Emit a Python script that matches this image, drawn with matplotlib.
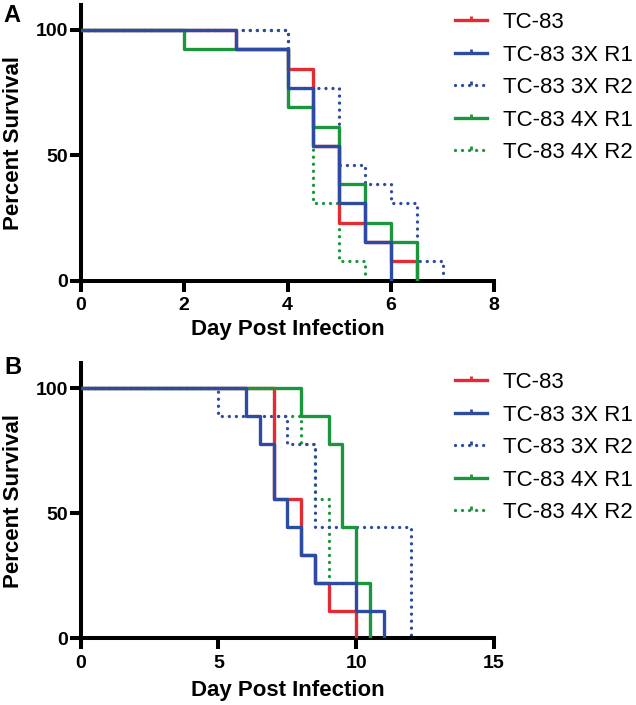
import matplotlib
matplotlib.use("Agg")
import matplotlib.pyplot as plt
from matplotlib.lines import Line2D
from matplotlib.path import Path

plt.rcParams['font.family'] = ['Liberation Sans', 'DejaVu Sans']

# Kaplan-Meier curves (day, percent survival)
labels = ["TC-83", "TC-83 3X R1", "TC-83 3X R2", "TC-83 4X R1", "TC-83 4X R2"]

# Panel A (n = 13 per group)
a_tc83_days = [0, 3, 4, 4.5, 5, 5.5, 6, 6.5]
a_tc83_surv = [100, 92.3, 84.6, 53.8, 23.1, 15.4, 7.7, 0]
a_3xr1_days = [0, 3, 4, 4.5, 5, 5.5, 6]
a_3xr1_surv = [100, 92.3, 76.9, 53.8, 30.8, 15.4, 0]
a_3xr2_days = [0, 4, 5, 5.5, 6, 6.5, 7]
a_3xr2_surv = [100, 76.9, 46.2, 38.5, 30.8, 7.7, 0]
a_4xr1_days = [0, 2, 4, 4.5, 5, 5.5, 6, 6.5]
a_4xr1_surv = [100, 92.3, 69.2, 61.5, 38.5, 23.1, 15.4, 0]
a_4xr2_days = [0, 4, 4.5, 5, 5.5]
a_4xr2_surv = [100, 69.2, 30.8, 7.7, 0]

# Panel B (n = 9 per group)
b_tc83_days = [0, 7, 8, 8.5, 9, 10]
b_tc83_surv = [100, 55.6, 33.3, 22.2, 11.1, 0]
b_3xr1_days = [0, 6, 6.5, 7, 7.5, 8, 8.5, 10, 11]
b_3xr1_surv = [100, 88.9, 77.8, 55.6, 44.4, 33.3, 22.2, 11.1, 0]
b_3xr2_days = [0, 5, 7.5, 8.5, 12]
b_3xr2_surv = [100, 88.9, 77.8, 44.4, 0]
b_4xr1_days = [0, 8, 9, 9.5, 10, 10.5]
b_4xr1_surv = [100, 88.9, 77.8, 44.4, 22.2, 0]
b_4xr2_days = [0, 7, 8, 8.5, 9, 10]
b_4xr2_surv = [100, 88.9, 77.8, 55.6, 22.2, 0]

a_xticks = [0, 2, 4, 6, 8]
b_xticks = [0, 5, 10, 15]
yticks = [0, 50, 100]

RED = "#E42A32"
BLUE = "#2D4BA0"
GREEN = "#1C963C"
DOT = (0, (0.01, 2.1))
LW = 2.4

# colour, linestyle, zorder for each group (same order as labels)
styles = [(RED, "-", 3), (BLUE, "-", 5), (BLUE, DOT, 2), (GREEN, "-", 4), (GREEN, DOT, 1)]

fig = plt.figure(figsize=(6.36, 7.05), dpi=100)
W, H = 636.0, 705.0
axA = fig.add_axes([80.7 / W, 1 - 280.7 / H, 413.6 / W, 275.8 / H])
axB = fig.add_axes([80.7 / W, 1 - 638.3 / H, 413.3 / W, 275.0 / H])

panels = [
    (axA, [(a_tc83_days, a_tc83_surv), (a_3xr1_days, a_3xr1_surv), (a_3xr2_days, a_3xr2_surv),
           (a_4xr1_days, a_4xr1_surv), (a_4xr2_days, a_4xr2_surv)], a_xticks, 8, 3.5, 12),
    (axB, [(b_tc83_days, b_tc83_surv), (b_3xr1_days, b_3xr1_surv), (b_3xr2_days, b_3xr2_surv),
           (b_4xr1_days, b_4xr1_surv), (b_4xr2_days, b_4xr2_surv)], b_xticks, 15, 5.5, 372),
]

tick_marker = Path([(0, 0), (0, 1)])

for ax, series, xt, xmax, lpad, leg_top in panels:
    for (days, surv), (c, ls, z) in zip(series, styles):
        ax.step(days, surv, where="post", color=c, linestyle=ls, lw=LW,
                dash_capstyle="round", solid_capstyle="butt", zorder=z)
    ax.set_xlim(0, xmax)
    ax.set_ylim(0, 110)
    ax.set_xticks(xt)
    ax.set_yticks(yticks)
    for s in ["top", "right"]:
        ax.spines[s].set_visible(False)
    for s in ["left", "bottom"]:
        ax.spines[s].set_linewidth(2.9)
    ax.tick_params(axis="both", direction="out", length=8, width=2.9, labelsize=14)
    ax.tick_params(axis="x", pad=4)
    ax.tick_params(axis="y", pad=1)
    for lab in ax.get_xticklabels() + ax.get_yticklabels():
        lab.set_fontweight("bold")
    ax.set_xlabel("Day Post Infection", fontsize=16, fontweight="bold", labelpad=lpad)
    ax.patch.set_alpha(0)

    handles = [Line2D([], [], color=c, linestyle=ls, lw=LW, dash_capstyle="round",
                      marker=tick_marker, markersize=6, markeredgewidth=2, markeredgecolor=c)
               for c, ls, z in styles]
    ax.legend(handles, labels, loc="upper left", bbox_to_anchor=(455 / W, 1 - leg_top / H),
              bbox_transform=fig.transFigure, frameon=False, fontsize=16, borderpad=0,
              borderaxespad=0, handlelength=1.45, handletextpad=0.7, labelspacing=0.52,
              numpoints=1)

# y labels centred on each axis, panel letters
fig.text(13.5 / W, 1 - 142.8 / H, "Percent Survival", rotation=90, ha="center", va="center",
         fontsize=16, fontweight="bold")
fig.text(13.5 / W, 1 - 500.8 / H, "Percent Survival", rotation=90, ha="center", va="center",
         fontsize=16, fontweight="bold")
fig.text(3 / W, 1 - 4 / H, "A", ha="left", va="top", fontsize=17, fontweight="bold")
fig.text(4 / W, 1 - 356 / H, "B", ha="left", va="top", fontsize=17, fontweight="bold")

fig.savefig("out.png", dpi=100)
